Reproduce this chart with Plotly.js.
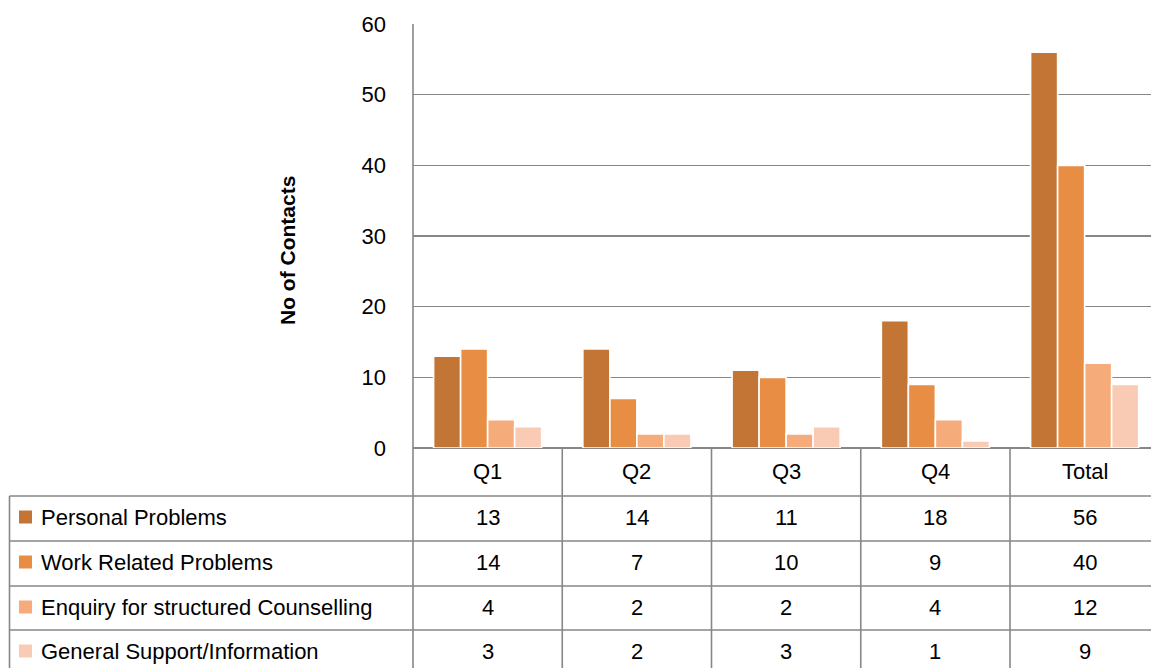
<!DOCTYPE html>
<html>
<head>
<meta charset="utf-8">
<script src="https://cdn.plot.ly/plotly-3.0.1.min.js"></script>
<style>html,body{margin:0;padding:0;background:#fff;}</style>
</head>
<body>
<div id="chart" style="width:1151px;height:668px;"></div>
<script>
// ---- data ----
const categories = ["Q1", "Q2", "Q3", "Q4", "Total"];
const seriesNames = ["Personal Problems", "Work Related Problems", "Enquiry for structured Counselling", "General Support/Information"];
const personal = [13, 14, 11, 18, 56];
const workRelated = [14, 7, 10, 9, 40];
const enquiry = [4, 2, 2, 4, 12];
const generalSupport = [3, 2, 3, 1, 9];
const yTicks = [0, 10, 20, 30, 40, 50, 60];
const yTitle = "No of Contacts";

// ---- style ----
const colors = ["#C27535", "#E88E44", "#F6AB7B", "#F9CAB4"];
const seriesValues = [personal, workRelated, enquiry, generalSupport];
const FONT = "Liberation Sans, Arial, sans-serif";
const GRID = "#878787";

// pixel helpers (plot area: x 413..1151, y 24..448)
const L = 413, T = 24, B = 448, W = 738, H = B - T;
const px = p => (p - L) / W;
const py = p => (B - p) / H;

const traces = seriesValues.map((vals, i) => ({
  type: "bar",
  name: seriesNames[i],
  x: categories.map((c, k) => k),
  y: vals,
  marker: { color: colors[i], line: { color: "#ffffff", width: 1.6 } },
  hoverinfo: "skip",
  showlegend: false
}));

const shapes = [];
const annotations = [];

// vertical axis / table lines
shapes.push({ type: "line", xref: "paper", yref: "paper", x0: 0, x1: 0, y0: 1, y1: py(700), line: { color: GRID, width: 1.6 } });
shapes.push({ type: "line", xref: "paper", yref: "paper", x0: px(9.5), x1: px(9.5), y0: py(496), y1: py(700), line: { color: GRID, width: 1.6 } });
for (let k = 0; k < categories.length - 1; k++) {
  shapes.push({ type: "line", xref: "x", yref: "paper", x0: k + 0.5, x1: k + 0.5, y0: 0, y1: py(700), line: { color: GRID, width: 1.6 } });
}
// horizontal table lines
[496, 541, 586, 630].forEach(r => {
  shapes.push({ type: "line", xref: "paper", yref: "paper", x0: px(9.5), x1: 1, y0: py(r), y1: py(r), line: { color: GRID, width: 1.6 } });
});

// header labels
categories.forEach((c, k) => {
  annotations.push({ xref: "x", yref: "paper", x: k, y: py(471), text: c, showarrow: false,
    xanchor: "center", yanchor: "middle", font: { family: FONT, size: 22, color: "#000" } });
});

// table rows
const rowCenters = [517, 562, 607, 651];
seriesNames.forEach((name, i) => {
  const yc = py(rowCenters[i]);
  shapes.push({ type: "rect", xref: "paper", yref: "paper", xsizemode: "pixel", ysizemode: "pixel",
    xanchor: px(25.5), yanchor: yc, x0: -6.5, x1: 6.5, y0: -6.5, y1: 6.5,
    fillcolor: colors[i], line: { width: 0 } });
  annotations.push({ xref: "paper", yref: "paper", x: px(39), y: yc, text: name, showarrow: false,
    xanchor: "left", yanchor: "middle", font: { family: FONT, size: 22, color: "#000" } });
  seriesValues[i].forEach((v, k) => {
    annotations.push({ xref: "x", yref: "paper", x: k, y: yc, text: String(v), showarrow: false,
      xanchor: "center", yanchor: "middle", font: { family: FONT, size: 22, color: "#000" } });
  });
});

// y axis title
annotations.push({ xref: "paper", yref: "paper", x: px(287), y: py(251), text: "<b>" + yTitle + "</b>",
  textangle: -90, showarrow: false, xanchor: "center", yanchor: "middle",
  font: { family: FONT, size: 21, color: "#000" } });

const band = 149.25;
const layout = {
  width: 1151, height: 668,
  margin: { l: L, r: 0, t: T, b: 668 - B, pad: 0 },
  paper_bgcolor: "#ffffff", plot_bgcolor: "#ffffff",
  barmode: "group", bargap: 0.276, bargroupgap: 0,
  showlegend: false,
  xaxis: { range: [-0.5, -0.5 + W / band], showticklabels: false, showgrid: false, zeroline: false, showline: false, fixedrange: true },
  yaxis: { range: [0, 60], tickvals: yTicks, ticktext: yTicks.map(String), showgrid: true, gridcolor: GRID, gridwidth: 1.3,
    zeroline: true, zerolinecolor: GRID, zerolinewidth: 1.6, showline: false, ticks: "", ticklabelstandoff: 26,
    tickfont: { family: FONT, size: 22, color: "#000" }, fixedrange: true },
  shapes: shapes,
  annotations: annotations,
  font: { family: FONT }
};

Plotly.newPlot("chart", traces, layout, { staticPlot: true, displayModeBar: false });
</script>
</body>
</html>
